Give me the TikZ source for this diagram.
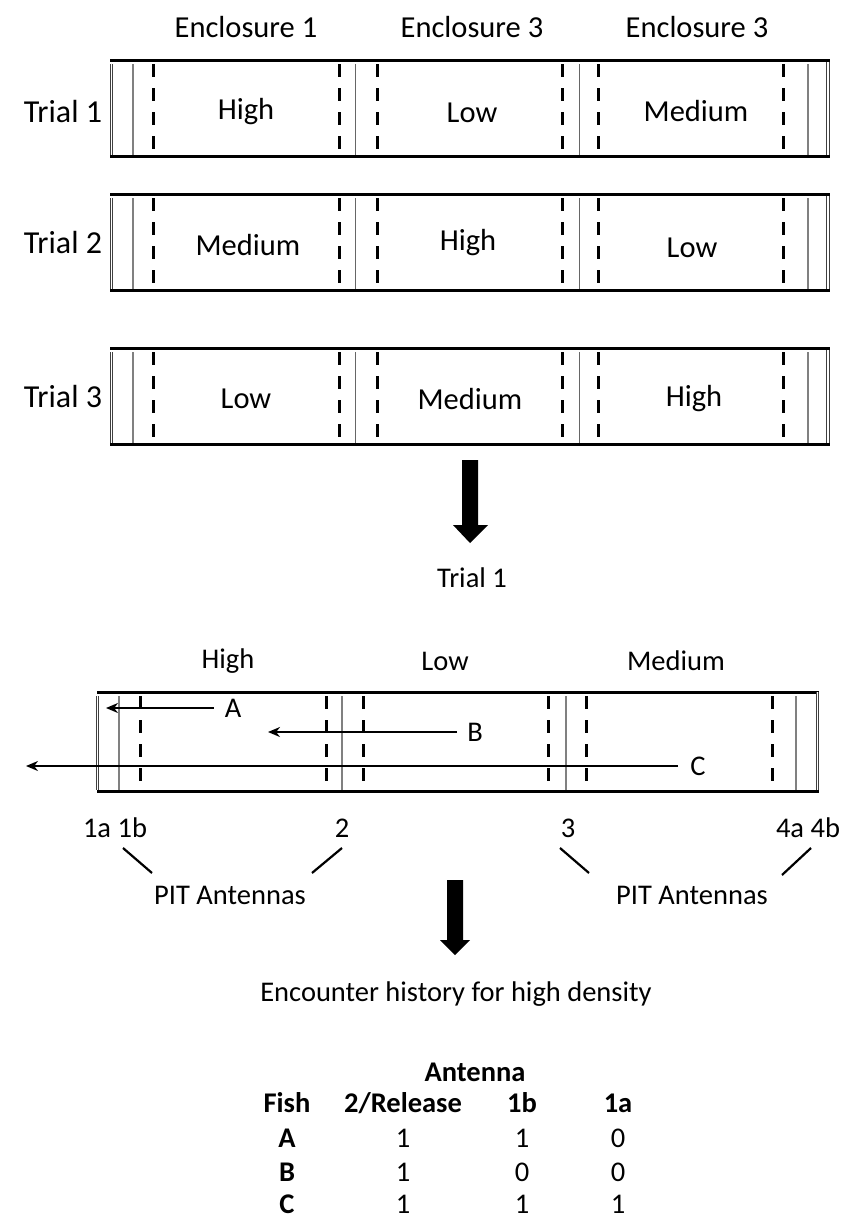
\documentclass[tikz,border=0pt]{standalone}
\usepackage{fontspec}
\setmainfont{Carlito}
\usetikzlibrary{arrows.meta}

\tikzset{
  wall/.style={line width=3pt},
  gate/.style={line width=3pt, dash pattern=on 13pt off 11pt},
  antenna/.style={line width=2.4pt, gray},
  endwall/.style={line width=1pt, black!75, double distance=1.6pt},
  txt/.style={inner sep=0pt, font=\fontsize{28.5}{34}\selectfont},
  toptxt/.style={inner sep=0pt, font=\fontsize{30.5}{36}\selectfont},
  rowtxt/.style={inner sep=0pt, font=\fontsize{32}{38}\selectfont},
  btxt/.style={inner sep=0pt, font=\fontsize{28.5}{34}\selectfont\bfseries},
  swim/.style={line width=2pt, -{Stealth[length=12pt,width=10pt]}},
  pointer/.style={line width=2.2pt},
}

% one row of three enclosures, top edge at #1
\newcommand{\enclrow}[1]{
  \draw[wall] (110,#1) -- (830,#1);
  \draw[wall] (110,#1+96) -- (830,#1+96);
  \draw[endwall] (111.5,#1+4) -- (111.5,#1+95);
  \draw[endwall] (828,#1+2) -- (828,#1+95);
  \draw[antenna] (133,#1+4) -- (133,#1+95);
  \draw[antenna] (808,#1+4) -- (808,#1+95);
  \draw[endwall, black!60, line width=0.8pt, double distance=1.4pt] (354,#1+4) -- (354,#1+95);
  \draw[endwall, black!60, line width=0.8pt, double distance=1.4pt] (578,#1+4) -- (578,#1+95);
  \foreach \gx in {153,339,377,562,598,783}
    \draw[gate] (\gx,#1+4) -- (\gx,#1+96);
}

\begin{document}
\begin{tikzpicture}[x=1pt, y=-1pt]
\useasboundingbox (0,0) rectangle (844,1218);

% headers
\node[toptxt] (encl1) at (246,27) {Enclosure 1};
\node[toptxt] (encl2) at (472,27) {Enclosure 3};
\node[toptxt] (encl3) at (697,27) {Enclosure 3};

% trials
\enclrow{60}
\enclrow{194}
\enclrow{348}
\node[rowtxt] (trial1) at (63,112) {Trial 1};
\node[rowtxt] (trial2) at (63,243) {Trial 2};
\node[rowtxt] (trial3) at (63,397) {Trial 3};

\node[toptxt] (t1a) at (246,112) {High};
\node[toptxt] (t1b) at (472,113) {Low};
\node[toptxt] (t1c) at (696,111) {Medium};
\node[toptxt] (t2a) at (248,245) {Medium};
\node[toptxt] (t2b) at (468,243) {High};
\node[toptxt] (t2c) at (692,248) {Low};
\node[toptxt] (t3a) at (246,399) {Low};
\node[toptxt] (t3b) at (470,399) {Medium};
\node[toptxt] (t3c) at (694,399) {High};

% big arrow
\fill (462,460) -- (478,460) -- (478,525) -- (488,525) -- (470,543)
  -- (453,525) -- (462,525) -- cycle;

\node[txt] (focus) at (472,578) {Trial 1};

% detail of trial 1
\node[txt] (dhigh) at (228,661) {High};
\node[txt] (dlow) at (445,661) {Low};
\node[txt] (dmed) at (676,661) {Medium};

\draw[wall] (97,692) -- (819,692);
\draw[wall] (97,791) -- (819,791);
\draw[endwall] (97.5,696) -- (97.5,790);
\draw[endwall] (817.5,692) -- (817.5,790);
\foreach \ax in {119,342,566,796}
  \draw[antenna] (\ax,696) -- (\ax,790);
\foreach \gx in {140,326,363,548,586,772}
  \draw[gate] (\gx,696) -- (\gx,792);

\node[txt] (fishA) at (233,708) {A};
\node[txt] (fishB) at (475,732) {B};
\node[txt] (fishC) at (698,766) {C};
\coordinate (endA) at (106,708);
\coordinate (endB) at (268,732);
\coordinate (endC) at (26,766);
\draw[swim] (fishA.west) ++(-11,0) -- (endA);
\draw[swim] (fishB.west) ++(-10,0) -- (endB);
\draw[swim] (fishC.west) ++(-12,0) -- (endC);

% antennas
\node[txt] (ant1) at (115,828) {1a 1b};
\node[txt] (ant2) at (342,828) {2};
\node[txt] (ant3) at (568,828) {3};
\node[txt] (ant4) at (808,828) {4a 4b};
\node[txt] (pitL) at (230,895) {PIT Antennas};
\node[txt] (pitR) at (692,895) {PIT Antennas};
\draw[pointer] (123,848) -- (152,873);
\draw[pointer] (342,848) -- (312,873);
\draw[pointer] (560,848) -- (589,873);
\draw[pointer] (811,848) -- (782,875);

% big arrow
\fill (447,880) -- (463,880) -- (463,940) -- (470,940) -- (455,955)
  -- (440,940) -- (447,940) -- cycle;

\node[txt] (history) at (456,994) {Encounter history for high density};

% table
\node[btxt] (antenna) at (475,1072) {Antenna};
\node[btxt] (hfish) at (287,1103) {Fish};
\node[btxt] (hrel) at (403,1103) {2/Release};
\node[btxt] (h1b) at (522,1103) {1b};
\node[btxt] (h1a) at (618,1103) {1a};
\node[btxt] (rA) at (287,1138) {A};
\node[btxt] (rB) at (287,1172) {B};
\node[btxt] (rC) at (287,1204) {C};
\node[txt] at (403,1138) {1};
\node[txt] at (522,1138) {1};
\node[txt] at (618,1138) {0};
\node[txt] at (403,1172) {1};
\node[txt] at (522,1172) {0};
\node[txt] at (618,1172) {0};
\node[txt] at (403,1204) {1};
\node[txt] at (522,1204) {1};
\node[txt] at (618,1204) {1};
\end{tikzpicture}
\end{document}
